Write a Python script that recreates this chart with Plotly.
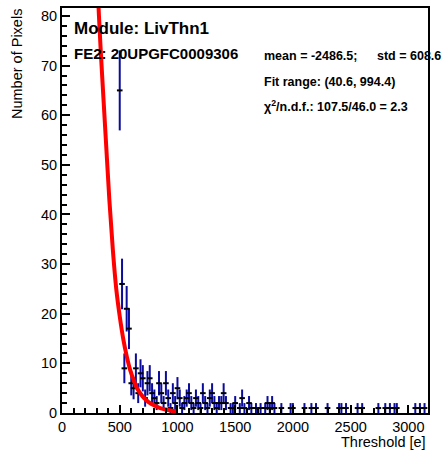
import numpy as np
import plotly.graph_objects as go

# histogram bins (threshold centre, pixel count)
bin_center = [500, 520, 540, 560, 580, 600, 620, 640, 660, 680, 700, 720, 740, 760,
              780, 800, 820, 840, 860, 880, 900, 920, 940, 960, 980, 1000, 1020, 1040,
              1060, 1080, 1100, 1120, 1140, 1160, 1180, 1200, 1220, 1240, 1260, 1280,
              1300, 1320, 1340, 1360, 1380, 1400, 1420, 1460, 1480, 1500, 1540, 1560,
              1580, 1620, 1640, 1680, 1720, 1760, 1780, 1800, 1820, 1840, 1900, 1980,
              2000, 2100, 2160, 2200, 2300, 2400, 2420, 2460, 2560, 2600, 2740, 2800,
              2840, 2880, 2900, 3060, 3100, 3140]
n_pixels = [65, 26, 9, 21, 17, 6, 5, 9, 4, 8, 7, 3, 6, 7,
            4, 3, 2, 6, 4, 2, 6, 3, 1, 4, 2, 5, 3, 1,
            2, 3, 4, 2, 1, 3, 2, 1, 4, 2, 1, 3,
            4, 2, 1, 2, 2, 4, 2, 1, 1, 2, 1, 3,
            1, 2, 1, 1, 1, 1, 2, 1, 2, 1, 1, 1,
            1, 1, 1, 1, 1, 1, 1, 1, 1, 1, 1, 1,
            1, 1, 1, 1, 1, 1]

# fit curve
fit_x = [300, 320, 350, 380, 410, 440, 470, 500, 530, 560, 590, 620, 650,
         700, 750, 800, 850, 900, 950, 994]
fit_y = [92, 80, 67, 55, 43, 33, 25, 19.5, 15, 11.5, 8.7, 6.7, 5.0,
         3.3, 2.2, 1.5, 1.0, 0.7, 0.45, 0.3]

x_ticks = [0, 500, 1000, 1500, 2000, 2500, 3000]
y_ticks = [0, 10, 20, 30, 40, 50, 60, 70, 80]

FONT = "Liberation Sans, Arial, sans-serif"

fig = go.Figure()

fig.add_trace(go.Scatter(
    x=bin_center, y=n_pixels, mode="markers",
    marker=dict(symbol="line-ew", size=4, color="black",
                line=dict(color="black", width=2)),
    error_y=dict(type="data", array=np.sqrt(n_pixels), color="#0c0c9c",
                 thickness=2, width=0),
    showlegend=False,
))

fig.add_trace(go.Scatter(
    x=fit_x, y=fit_y, mode="lines", line=dict(color="#ff0000", width=4, shape="spline"),
    showlegend=False,
))

ann = dict(xref="paper", yref="paper", showarrow=False, xanchor="left", yanchor="middle")

def px_x(X):
    return (X - 62) / 366

def px_y(Y):
    return (413 - Y) / 407

def f(size):
    return dict(family=FONT, size=size, color="black")

annotations = [
    dict(ann, x=px_x(72), y=px_y(26.5), text="<b>Module: LivThn1</b>", font=f(17)),
    dict(ann, x=px_x(72), y=px_y(52), text="<b>FE2: 20UPGFC0009306</b>", font=f(15)),
    dict(ann, x=px_x(262), y=px_y(54), text="<b>mean = -2486.5;</b>", font=f(12.5)),
    dict(ann, x=px_x(375), y=px_y(54), text="<b>std = 608.6</b>", font=f(12.5)),
    dict(ann, x=px_x(262), y=px_y(80.5), text="<b>Fit range: (40.6, 994.4)</b>", font=f(12.5)),
    dict(ann, x=px_x(262), y=px_y(104),
         text="<b>χ<sup>2</sup>/n.d.f.: 107.5/46.0 = 2.3</b>", font=f(12.5)),
    dict(ann, x=1.0, xanchor="right", y=px_y(442), text="Threshold [e]", font=f(14.5)),
    dict(ann, x=px_x(17), xanchor="center", y=px_y(5), yanchor="top", textangle=-90,
         text="Number of Pixels", font=f(14.5)),
]

axis_common = dict(
    showgrid=False, zeroline=False, showline=True, linecolor="black", linewidth=2,
    mirror=True, ticks="inside", ticklen=8, tickwidth=1.5, tickcolor="black",
    tickfont=f(14.5),
)

fig.update_layout(
    width=443, height=454,
    margin=dict(l=62, r=15, t=6, b=41),
    paper_bgcolor="white", plot_bgcolor="white",
    xaxis=dict(axis_common, range=[0, 3170], tickvals=x_ticks,
               minor=dict(ticks="inside", dtick=100, ticklen=5, tickwidth=1.5,
                          tickcolor="black")),
    yaxis=dict(axis_common, range=[0, 81.6], tickvals=y_ticks,
               minor=dict(ticks="inside", dtick=2, ticklen=5, tickwidth=1.5,
                          tickcolor="black")),
    annotations=annotations,
)

fig.write_html("out.html", config={"displayModeBar": False},
               post_script="document.body.style.margin='0px';")
